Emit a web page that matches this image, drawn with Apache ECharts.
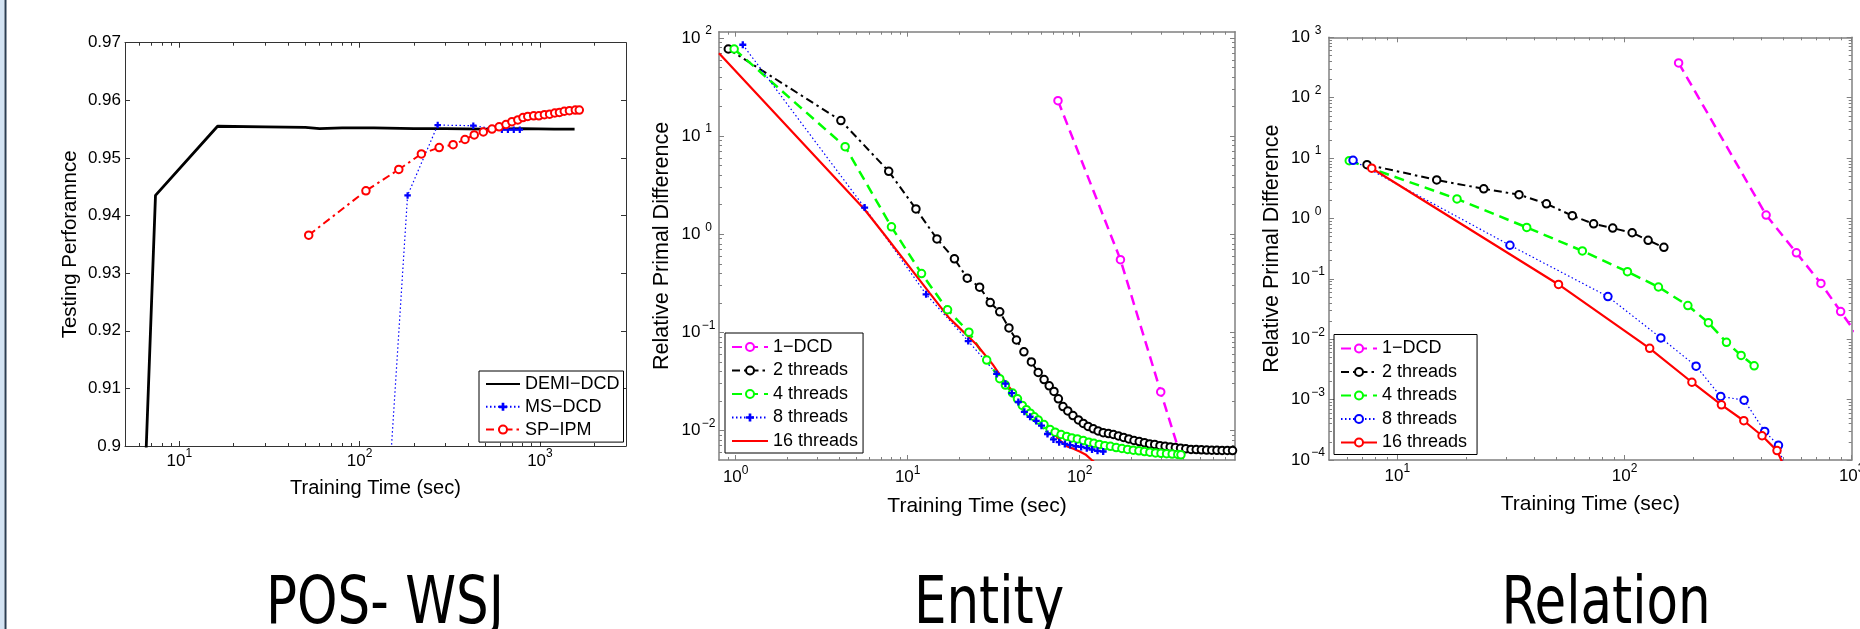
<!DOCTYPE html>
<html>
<head>
<meta charset="utf-8">
<title>Training time comparison</title>
<script src="https://cdn.jsdelivr.net/npm/echarts@6.0.0/dist/echarts.min.js"></script>
<style>
  html, body { margin: 0; padding: 0; background: #fff; }
  #chart { width: 1860px; height: 629px; }
</style>
</head>
<body>
<div id="chart"></div>
<script>
const FONT = '"Liberation Sans", Arial, sans-serif';
const TITLE_FONT = '"Liberation Sans Narrow", "DejaVu Sans Condensed", sans-serif';
const PLUS = 'path://M2,0H4V2H6V4H4V6H2V4H0V2H2Z';

// ---- POS-WSJ ----
const posDemiDcd = [[6.3, 0.885], [7.38, 0.9435], [16.3, 0.9555], [30, 0.9554], [50, 0.9553], [60, 0.9551],
  [80, 0.9552], [120, 0.9552], [200, 0.9551], [300, 0.9551], [500, 0.955], [800, 0.9551], [1200, 0.955], [1556, 0.955]];
const posMsDcd = [[140, 0.885], [184.5, 0.9435], [271, 0.9557], [427, 0.9556], [615, 0.9549], [664, 0.9549],
  [716, 0.9549], [773, 0.9549]];
const posSpIpm = [[52.2, 0.9366], [108.4, 0.9443], [164.9, 0.948], [220, 0.9507], [276, 0.9518], [330, 0.9523],
  [384, 0.9532], [432, 0.954], [485, 0.9545], [542, 0.955], [594, 0.9554], [648, 0.9558], [699, 0.9563],
  [754, 0.9566], [805, 0.957], [856, 0.9572], [923, 0.9573], [986, 0.9573], [1059, 0.9575], [1131, 0.9576],
  [1208, 0.9578], [1283, 0.9579], [1364, 0.9581], [1457, 0.9582], [1571, 0.9583], [1652, 0.9583]];
const posXMajor = [10, 100, 1000];

// ---- Entity ----
const entity1Dcd = [[74.8, 23.0], [172.6, 0.551], [296, 0.0247], [430, 0.003]];
const entity2Threads = [[0.906, 77.3], [4.09, 14.4], [7.76, 4.38], [11.17, 1.81], [14.8, 0.897], [18.7, 0.561],
  [22.2, 0.357], [26.2, 0.289], [30.2, 0.201], [34.3, 0.162], [38.8, 0.111], [42.9, 0.0836], [47.4, 0.0633],
  [52.4, 0.05], [57.4, 0.039], [62.1, 0.033], [66.5, 0.0285], [70.9, 0.025], [75.2, 0.021], [80, 0.0175],
  [85.3, 0.0158], [91.4, 0.0142], [98.4, 0.0128], [105, 0.0118], [112, 0.011], [120, 0.0104], [128, 0.0099],
  [137, 0.0095], [147, 0.0093], [157, 0.0091], [168, 0.0088], [180, 0.0085], [193, 0.0082], [207, 0.0079],
  [222, 0.0077], [238, 0.0075], [255, 0.0073], [273, 0.0072], [293, 0.007], [314, 0.0069], [336, 0.0068],
  [360, 0.0067], [386, 0.0066], [414, 0.0065], [444, 0.0064], [476, 0.00638], [510, 0.00635], [547, 0.00632],
  [586, 0.0063], [628, 0.00628], [673, 0.00626], [722, 0.00625], [774, 0.00624]];
const entity4Threads = [[0.98, 77.3], [4.33, 7.81], [8.05, 1.19], [12.04, 0.397], [17.06, 0.17], [22.7, 0.1005],
  [28.8, 0.0522], [34.3, 0.0337], [37, 0.029], [40.7, 0.0241], [43.5, 0.021], [46.4, 0.018], [49, 0.0163],
  [51.6, 0.015], [54.5, 0.0138], [57.4, 0.0128], [62, 0.0115], [67.3, 0.0102], [72, 0.0096], [78, 0.0091],
  [84, 0.0087], [90, 0.0084], [97, 0.0082], [105, 0.0079], [113, 0.0076], [121, 0.0074], [130, 0.0072],
  [140, 0.007], [151, 0.0069], [163, 0.0067], [176, 0.00655], [190, 0.0064], [205, 0.0063], [221, 0.0062],
  [238, 0.0061], [256, 0.006], [276, 0.0059], [297, 0.00585], [320, 0.0058], [345, 0.00575], [372, 0.0057],
  [388, 0.00565]];
const entity8Threads = [[1.1, 85.4], [5.62, 1.87], [12.8, 0.244], [22.5, 0.0815], [32.9, 0.0377], [37, 0.03],
  [40.3, 0.024], [44, 0.0195], [47.7, 0.0155], [51.5, 0.0138], [55.9, 0.0125], [60, 0.0112], [65, 0.0092],
  [70.4, 0.0081], [76, 0.0076], [82, 0.0073], [88, 0.0071], [95, 0.0069], [102, 0.0068], [110, 0.0066],
  [118, 0.0064], [127, 0.0062], [137, 0.0061]];
const entity16Threads = [[0.8, 70], [5.6, 1.8], [7.3, 1.0], [13.4, 0.253], [17.4, 0.1406], [25.2, 0.0748],
  [31.2, 0.0472], [35.5, 0.034], [40, 0.026], [44, 0.0205], [47, 0.017], [50, 0.0152], [54, 0.0146],
  [58.9, 0.0134], [64, 0.0112], [70.4, 0.0094], [77, 0.0079], [84, 0.0069], [92, 0.0065], [100, 0.0061],
  [108, 0.0057], [117.5, 0.005], [125, 0.0046]];
const entityXMajor = [1, 10, 100];
const entityYMajor = [0.01, 0.1, 1, 10, 100];

// ---- Relation ----
const rel1Dcd = [[173, 376], [420, 1.14], [571, 0.27], [732, 0.084], [894, 0.0287], [1100, 0.0095]];
const rel2Threads = [[7.35, 7.78], [14.9, 4.34], [24.0, 3.09], [34.3, 2.48], [45.3, 1.75], [58.9, 1.11],
  [73.1, 0.815], [88.7, 0.692], [108, 0.58], [127, 0.435], [149, 0.332]];
const rel4Threads = [[6.14, 9.04], [18.3, 2.11], [37.1, 0.711], [65.2, 0.29], [103, 0.1315], [141, 0.0733],
  [190, 0.0361], [234, 0.0188], [281, 0.0089], [326, 0.0054], [372, 0.00363]];
const rel8Threads = [[6.38, 9.16], [31.3, 0.36], [84.5, 0.0508], [144.5, 0.0105], [206.5, 0.00358], [265, 0.00113],
  [336, 0.00098], [414, 0.000297], [476, 0.000175], [515, 0.00006]];
const rel16Threads = [[7.71, 6.79], [51.2, 0.0807], [129, 0.00706], [198, 0.00194], [267, 0.00082],
  [335, 0.000447], [403, 0.000252], [469, 0.000143], [520, 0.00006]];
const relXMajor = [10, 100, 1000];
const relYMajor = [0.0001, 0.001, 0.01, 0.1, 1, 10, 100, 1000];

const minorSteps = [2, 3, 4, 5, 6, 7, 8, 9];
const titles = ['POS- WSJ', 'Entity', 'Relation'];

// minor log ticks (2..9 x decade) strictly inside [lo, hi]
const logMinors = (lo, hi) => {
  const out = [];
  for (let d = Math.floor(Math.log10(lo)); d <= Math.ceil(Math.log10(hi)); d += 1) {
    minorSteps.forEach((m) => {
      const v = m * Math.pow(10, d);
      if (v > lo && v < hi) out.push(v);
    });
  }
  return out;
};

const powLabel = (v) => {
  const e = Math.round(Math.log10(v));
  return `{b|10}{e|${e < 0 ? '\u2212' + -e : e}}`;
};
const powRich = (fixedExp) => ({
  b: { fontSize: 17, lineHeight: 17, fontFamily: FONT, color: '#000' },
  e: Object.assign({ fontSize: 12, lineHeight: 12, fontFamily: FONT, color: '#000', padding: [0, 0, 14, 0] },
    fixedExp ? { width: 16, align: 'left' } : {}),
});

const xAxes = [];
const yAxes = [];

const addAxisSet = (list, dim, grid, cfg) => {
  const near = dim === 'x' ? 'bottom' : 'left';
  const far = dim === 'x' ? 'top' : 'right';
  const common = { type: cfg.type, gridIndex: grid, min: cfg.min, max: cfg.max, splitLine: { show: false }, silent: true };
  if (cfg.interval) common.interval = cfg.interval;
  const line = { show: true, onZero: false, lineStyle: { color: cfg.color, width: cfg.width } };
  const major = { inside: true, length: 5, lineStyle: { color: cfg.color, width: 1 } };
  if (cfg.majors) major.customValues = cfg.majors;
  const mainIndex = list.length;
  const label = Object.assign({ fontSize: 17, fontFamily: FONT, color: '#000' }, cfg.label);
  if (cfg.majors) label.customValues = cfg.majors;
  list.push(Object.assign({}, common, {
    position: near,
    axisLine: line,
    axisTick: major,
    axisLabel: label,
    name: cfg.name,
    nameLocation: 'middle',
    nameGap: cfg.nameGap,
    nameTextStyle: { fontSize: cfg.nameSize, fontFamily: FONT, color: '#000' },
  }));
  list.push(Object.assign({}, common, { position: far, axisLine: line, axisTick: major, axisLabel: { show: false } }));
  if (cfg.minors) {
    const minor = { inside: true, length: 3, customValues: cfg.minors, lineStyle: { color: cfg.color, width: 1 } };
    list.push(Object.assign({}, common, { position: near, axisLine: { show: false }, axisTick: minor, axisLabel: { show: false } }));
    list.push(Object.assign({}, common, { position: far, axisLine: { show: false }, axisTick: minor, axisLabel: { show: false } }));
  }
  return mainIndex;
};

// POS-WSJ axes
const posX = addAxisSet(xAxes, 'x', 0, {
  type: 'log', min: 5, max: 3000, majors: posXMajor, minors: logMinors(5, 3000), color: '#333', width: 1,
  label: { formatter: powLabel, rich: powRich(false), margin: 6.5 },
  name: 'Training Time (sec)', nameGap: 30, nameSize: 20,
});
const posY = addAxisSet(yAxes, 'y', 0, {
  type: 'value', min: 0.9, max: 0.97, interval: 0.01, color: '#333', width: 1,
  label: { margin: 4 },
  name: 'Testing Perforamnce', nameGap: 44, nameSize: 20.5,
});
// Entity axes
const entX = addAxisSet(xAxes, 'x', 1, {
  type: 'log', min: 0.8, max: 800, majors: entityXMajor, minors: logMinors(0.8, 800), color: '#808080', width: 1.5,
  label: { formatter: powLabel, rich: powRich(false), margin: 9 },
  name: 'Training Time (sec)', nameGap: 32.5, nameSize: 21,
});
const entY = addAxisSet(yAxes, 'y', 1, {
  type: 'log', min: 0.005, max: 116, majors: entityYMajor, minors: logMinors(0.005, 116), color: '#808080', width: 1.5,
  label: { formatter: powLabel, rich: powRich(true), margin: 2.5 },
  name: 'Relative Primal Difference', nameGap: 46, nameSize: 21.5,
});
// Relation axes
const relX = addAxisSet(xAxes, 'x', 2, {
  type: 'log', min: 5, max: 1000, majors: relXMajor, minors: logMinors(5, 1000), color: '#808080', width: 1.5,
  label: { formatter: powLabel, rich: powRich(false), margin: 7.5 },
  name: 'Training Time (sec)', nameGap: 31, nameSize: 21,
});
const relY = addAxisSet(yAxes, 'y', 2, {
  type: 'log', min: 0.0001, max: 1000, majors: relYMajor, minors: logMinors(0.0001, 1000), color: '#808080', width: 1.5,
  label: { formatter: powLabel, rich: powRich(true), margin: 3 },
  name: 'Relative Primal Difference', nameGap: 45.5, nameSize: 21.5,
});

const lineSeries = (name, data, xi, yi, s) => ({
  type: 'line',
  name,
  data,
  xAxisIndex: xi,
  yAxisIndex: yi,
  symbol: s.symbol || 'none',
  symbolSize: s.size || 7.5,
  showSymbol: !!s.symbol,
  clip: true,
  silent: true,
  lineStyle: { color: s.color, width: s.width || 1.5, type: s.dash || 'solid' },
  itemStyle: { color: s.color, borderColor: s.color, borderWidth: s.symbol === PLUS ? 0 : s.border || 2.2 },
});

const DASH = [10, 6];
const DASHDOT = [8, 4, 2.5, 4];
const DOT = [1.5, 2.5];

const series = [
  lineSeries('DEMI\u2212DCD', posDemiDcd, posX, posY, { color: '#000', width: 2.8 }),
  lineSeries('MS\u2212DCD', posMsDcd, posX, posY, { color: '#0000ff', width: 1.2, dash: DOT, symbol: PLUS, size: 6.5 }),
  lineSeries('SP\u2212IPM', posSpIpm, posX, posY, { color: '#ff0000', width: 2, dash: DASHDOT, symbol: 'emptyCircle', size: 7.5, border: 2 }),

  lineSeries('1\u2212DCD', entity1Dcd, entX, entY, { color: '#ff00ff', width: 2.5, dash: DASH, symbol: 'emptyCircle' }),
  lineSeries('2 threads', entity2Threads, entX, entY, { color: '#000', width: 2, dash: DASHDOT, symbol: 'emptyCircle' }),
  lineSeries('4 threads', entity4Threads, entX, entY, { color: '#00ff00', width: 2.5, dash: DASH, symbol: 'emptyCircle' }),
  lineSeries('8 threads', entity8Threads, entX, entY, { color: '#0000ff', width: 1.2, dash: DOT, symbol: PLUS, size: 7 }),
  lineSeries('16 threads', entity16Threads, entX, entY, { color: '#ff0000', width: 2.2 }),

  lineSeries('1\u2212DCD ', rel1Dcd, relX, relY, { color: '#ff00ff', width: 2.5, dash: DASH, symbol: 'emptyCircle' }),
  lineSeries('2 threads ', rel2Threads, relX, relY, { color: '#000', width: 2, dash: DASHDOT, symbol: 'emptyCircle' }),
  lineSeries('4 threads ', rel4Threads, relX, relY, { color: '#00ff00', width: 2.5, dash: DASH, symbol: 'emptyCircle' }),
  lineSeries('8 threads ', rel8Threads, relX, relY, { color: '#0000ff', width: 1.2, dash: DOT, symbol: 'emptyCircle' }),
  lineSeries('16 threads ', rel16Threads, relX, relY, { color: '#ff0000', width: 2.2, symbol: 'emptyCircle' }),
];

// legend rows for lines drawn without markers get a hidden marker
const noMarker = (name) => ({ name, itemStyle: { opacity: 0 } });

const legendBox = (names, left, top, gap, itemWidth, padding) => ({
  data: names,
  orient: 'vertical',
  left,
  top,
  itemWidth,
  itemHeight: 10,
  itemGap: gap,
  padding,
  selectedMode: false,
  borderColor: '#000',
  borderWidth: 1,
  borderRadius: 0,
  backgroundColor: '#fff',
  textStyle: { fontSize: 18, lineHeight: 18, fontFamily: FONT, color: '#000' },
});

const titleText = (text, x) => ({
  type: 'text',
  x,
  y: 606,
  scaleX: 0.88,
  silent: true,
  style: {
    text, fill: '#000', font: `65px ${TITLE_FONT}`,
    textAlign: 'center', textVerticalAlign: 'middle', align: 'center', verticalAlign: 'middle',
  },
});

const chart = echarts.init(document.getElementById('chart'));
chart.setOption({
  animation: false,
  backgroundColor: '#fff',
  grid: [
    { left: 125, top: 42.7, width: 501, height: 403.3, outerBoundsMode: 'none' },
    { left: 719, top: 31.7, width: 516, height: 428.3, outerBoundsMode: 'none' },
    { left: 1329, top: 37.3, width: 522.7, height: 422.7, outerBoundsMode: 'none' },
  ],
  xAxis: xAxes,
  yAxis: yAxes,
  legend: [
    legendBox([noMarker('DEMI\u2212DCD'), 'MS\u2212DCD', 'SP\u2212IPM'], 479, 371, 4.8, 34, [4, 4, 3.5, 6]),
    legendBox(['1\u2212DCD', '2 threads', '4 threads', '8 threads', noMarker('16 threads')], 725, 333, 5.5, 36, [5, 5, 3, 6]),
    legendBox(['1\u2212DCD ', '2 threads ', '4 threads ', '8 threads ', '16 threads '], 1334, 334.5, 5.5, 36, [5, 5, 3, 6]),
  ],
  series,
  graphic: [
    { type: 'rect', silent: true, shape: { x: 0, y: 0, width: 4.5, height: 629 }, style: { fill: '#d3e3f3' } },
    { type: 'rect', silent: true, shape: { x: 4.5, y: 0, width: 2, height: 629 }, style: { fill: '#2a3d52' } },
    titleText(titles[0], 385),
    titleText(titles[1], 989),
    titleText(titles[2], 1606),
  ],
});
</script>
</body>
</html>
